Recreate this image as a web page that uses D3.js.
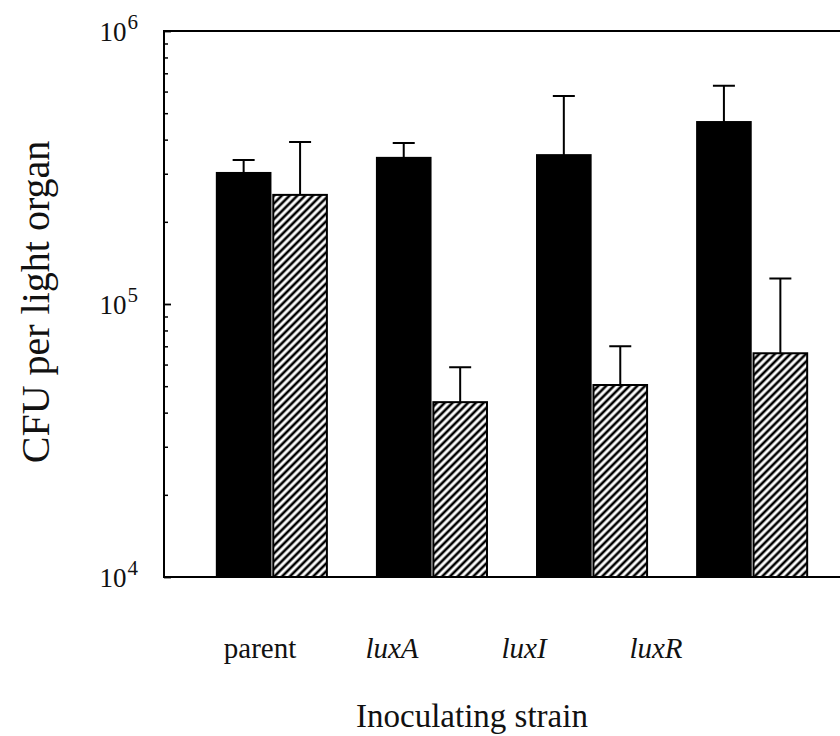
<!DOCTYPE html>
<html>
<head>
<meta charset="utf-8">
<script src="https://cdn.jsdelivr.net/npm/d3@7"></script>
<style>
  body { margin: 0; background: #fff; }
  svg { display: block; }
</style>
</head>
<body>
<div id="chart"></div>
<script>
// Data
const categories = ["parent", "luxA", "luxI", "luxR"];
const series = ["solid", "hatched"];
const solidValues = [3.02e5, 3.43e5, 3.51e5, 4.64e5];
const solidErrTop = [3.37e5, 3.89e5, 5.78e5, 6.3e5];
const hatchedValues = [2.51e5, 4.37e4, 5.05e4, 6.6e4];
const hatchedErrTop = [3.92e5, 5.87e4, 7.0e4, 1.24e5];
const majorTicks = [1e4, 1e5, 1e6];
const tickExponents = ["4", "5", "6"];
const yTitle = "CFU per light organ";
const xTitle = "Inoculating strain";

const W = 840, H = 736;
const frame = { left: 164, right: 860, top: 31, bottom: 577 };
const font = "'Liberation Serif', 'Times New Roman', serif";

const svg = d3.select("#chart").append("svg")
    .attr("width", W)
    .attr("height", H);

svg.append("rect").attr("width", W).attr("height", H).attr("fill", "#fff");

// hatch pattern for the second series
const defs = svg.append("defs");
const pat = defs.append("pattern")
    .attr("id", "hatch")
    .attr("patternUnits", "userSpaceOnUse")
    .attr("width", 5.5)
    .attr("height", 5.5)
    .attr("patternTransform", "rotate(45)");
pat.append("rect").attr("width", 5.5).attr("height", 5.5).attr("fill", "#fff");
pat.append("line")
    .attr("x1", 2.75).attr("y1", 0).attr("x2", 2.75).attr("y2", 5.5)
    .attr("stroke", "#000").attr("stroke-width", 2.6);

// scales
const y = d3.scaleLog()
    .domain([1e4, 1e6])
    .range([frame.bottom, frame.top]);

const x = d3.scaleBand()
    .domain(categories)
    .range([frame.left, frame.right])
    .paddingInner(0.3125)
    .paddingOuter(0.33);

const xSub = d3.scaleBand()
    .domain(series)
    .range([0, x.bandwidth()])
    .paddingInner(0.05);

const labelX = d3.scalePoint()
    .domain(categories)
    .range([260, 656]);

const rows = categories.map((c, i) => ({
    cat: c,
    bars: [
        { s: "solid", v: solidValues[i], e: solidErrTop[i] },
        { s: "hatched", v: hatchedValues[i], e: hatchedErrTop[i] }
    ]
}));

// minor ticks inside the frame
const minorTicks = y.ticks().filter(t => majorTicks.indexOf(t) < 0);

svg.append("g")
    .attr("transform", "translate(" + frame.left + ",0)")
    .call(d3.axisRight(y).tickValues(minorTicks).tickSize(4).tickFormat(""))
    .call(g => g.select(".domain").remove())
    .selectAll("line").attr("stroke", "#000").attr("stroke-width", 1.5);

svg.append("g")
    .attr("transform", "translate(" + frame.left + ",0)")
    .call(d3.axisRight(y).tickValues(majorTicks).tickSize(7).tickFormat(""))
    .call(g => g.select(".domain").remove())
    .selectAll("line").attr("stroke", "#000").attr("stroke-width", 1.8);

// bars
const groups = svg.selectAll(".grp")
    .data(rows)
    .enter().append("g")
    .attr("class", "grp")
    .attr("transform", d => "translate(" + x(d.cat) + ",0)");

// error bars (upper only)
groups.selectAll(".err")
    .data(d => d.bars)
    .enter().append("path")
    .attr("class", "err")
    .attr("fill", "none")
    .attr("stroke", "#000")
    .attr("stroke-width", 2)
    .attr("d", d => {
        const cx = xSub(d.s) + xSub.bandwidth() / 2;
        return "M" + cx + "," + y(d.v) + "V" + y(d.e) +
            "M" + (cx - 11) + "," + y(d.e) + "H" + (cx + 11);
    });

groups.selectAll(".bar")
    .data(d => d.bars)
    .enter().append("rect")
    .attr("class", "bar")
    .attr("x", d => xSub(d.s))
    .attr("width", xSub.bandwidth())
    .attr("y", d => y(d.v))
    .attr("height", d => y(1e4) - y(d.v))
    .attr("fill", d => d.s === "solid" ? "#000" : "url(#hatch)")
    .attr("stroke", "#000")
    .attr("stroke-width", 2);

// frame
svg.append("rect")
    .attr("x", frame.left)
    .attr("y", frame.top)
    .attr("width", frame.right - frame.left)
    .attr("height", frame.bottom - frame.top)
    .attr("fill", "none")
    .attr("stroke", "#000")
    .attr("stroke-width", 2);

// y tick labels
const yl = svg.selectAll(".ylab")
    .data(majorTicks)
    .enter().append("text")
    .attr("class", "ylab")
    .attr("x", 138)
    .attr("y", d => y(d) + 10)
    .attr("text-anchor", "end")
    .attr("font-family", font)
    .attr("font-size", 27)
    .attr("fill", "#111");
yl.append("tspan").text("10");
yl.append("tspan")
    .attr("font-size", 21)
    .attr("dx", 1)
    .attr("dy", -12)
    .text((d, i) => tickExponents[i]);

// category labels
svg.selectAll(".xlab")
    .data(categories)
    .enter().append("text")
    .attr("class", "xlab")
    .attr("x", d => labelX(d))
    .attr("y", 658)
    .attr("text-anchor", "middle")
    .attr("font-family", font)
    .attr("font-size", 29)
    .attr("font-style", d => d === "parent" ? "normal" : "italic")
    .attr("fill", "#111")
    .text(d => d);

// axis titles
svg.append("text")
    .attr("x", 472)
    .attr("y", 727)
    .attr("text-anchor", "middle")
    .attr("font-family", font)
    .attr("font-size", 33)
    .attr("fill", "#111")
    .text(xTitle);

svg.append("text")
    .attr("transform", "translate(49,302) rotate(-90)")
    .attr("text-anchor", "middle")
    .attr("font-family", font)
    .attr("font-size", 40)
    .attr("fill", "#111")
    .text(yTitle);
</script>
</body>
</html>
